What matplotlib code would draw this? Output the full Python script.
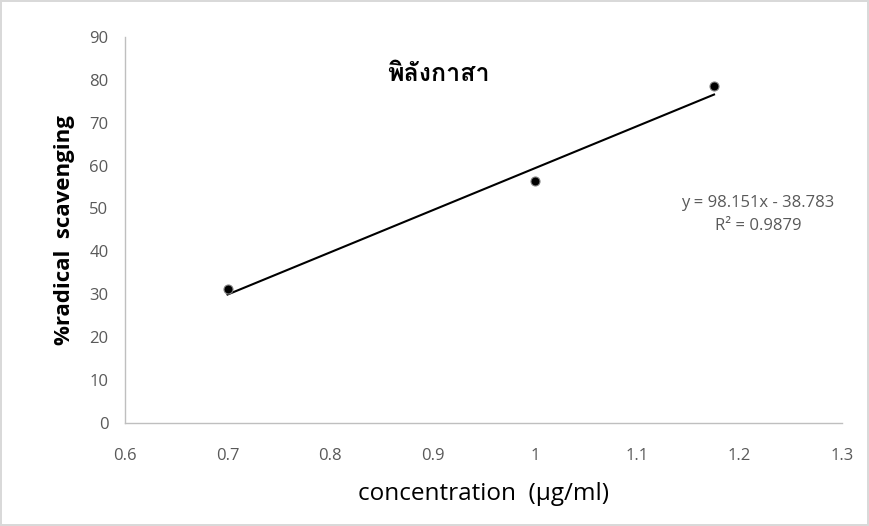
import matplotlib

matplotlib.use("Agg")
import matplotlib.pyplot as plt
from matplotlib import font_manager
from fontTools.ttLib import TTFont

# data
conc = [0.7, 1.0, 1.175]
scav = [31.2, 56.5, 78.5]
slope, intercept = 98.151, -38.783
r2 = 0.9879
xticks = [0.6, 0.7, 0.8, 0.9, 1.0, 1.1, 1.2, 1.3]
xtick_labels = ["0.6", "0.7", "0.8", "0.9", "1", "1.1", "1.2", "1.3"]
yticks = list(range(0, 100, 10))
title = "พิลังกาสา"


def thai_font():
    """Find an installed family that has Thai glyphs (falls back to DejaVu)."""
    for f in font_manager.fontManager.ttflist:
        try:
            cmap = TTFont(f.fname, fontNumber=0, lazy=True).getBestCmap()
        except Exception:
            continue
        if cmap and 0x0E1E in cmap and 0x0E25 in cmap:
            return f.name
    return "DejaVu Sans"


TXT = "Open Sans"
GRAY = "#595959"

fig = plt.figure(figsize=(8.69, 5.26), dpi=100)
fig.patch.set_edgecolor("#D9D9D9")
fig.patch.set_linewidth(1.5)
ax = fig.add_axes([0.144, 0.196, 0.825, 0.734])

xs = [conc[0], conc[-1]]
ax.plot(xs, [slope * x + intercept for x in xs], color="black", lw=1.5, zorder=2)
ax.scatter(conc, scav, s=42, color="black", edgecolor="#7f7f7f", lw=0.8, zorder=3)

ax.set_xlim(0.6, 1.3)
ax.set_ylim(0, 90)
ax.set_xticks(xticks)
ax.set_xticklabels(xtick_labels)
ax.set_yticks(yticks)
for s in ["top", "right"]:
    ax.spines[s].set_visible(False)
for s in ["left", "bottom"]:
    ax.spines[s].set_color("#BFBFBF")
    ax.spines[s].set_linewidth(1.0)
ax.tick_params(length=0, labelsize=12, labelcolor=GRAY)
ax.tick_params(axis="x", pad=18)
ax.tick_params(axis="y", pad=12)
for lab in ax.get_xticklabels() + ax.get_yticklabels():
    lab.set_family(TXT)

ax.set_xlabel("concentration  (µg/ml)", fontsize=17.5, family=TXT, labelpad=13)
ax.set_ylabel("%radical  scavenging", fontsize=16, family=TXT, fontweight="bold",
              labelpad=10)

ax.text(0.906, 81.3, title, family=[thai_font(), "DejaVu Sans"], fontsize=18,
        fontweight="bold", ha="center", va="center")
ax.text(1.218, 51.3, f"y = {slope}x - {abs(intercept)}", fontsize=12, family=TXT,
        color=GRAY, ha="center", va="center")
ax.text(1.218, 45.9, f"R² = {r2}", fontsize=12, family=TXT, color=GRAY,
        ha="center", va="center")

fig.savefig("out.png", dpi=100, facecolor="white", edgecolor=fig.patch.get_edgecolor())
